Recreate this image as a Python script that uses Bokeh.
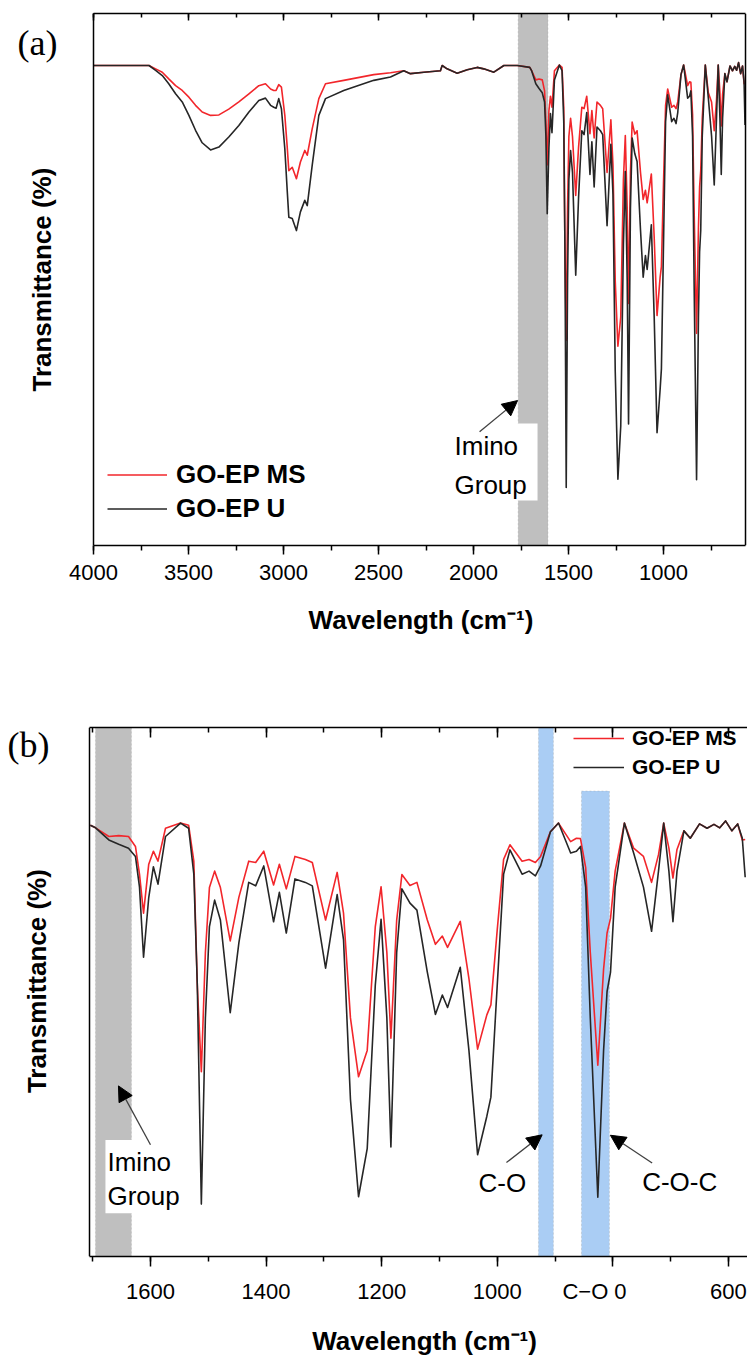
import math
from bokeh.plotting import figure
from bokeh.models import (Range1d, LinearAxis, SingleIntervalTicker, BoxAnnotation, Label,
                          Arrow, NormalHead, Legend, LegendItem, CustomJSTickFormatter, Span)
from bokeh.layouts import column
from bokeh.embed import file_html
from bokeh.resources import INLINE

# ---------------- data ----------------
wavenumber = [4000, 3708, 3673, 3638, 3604, 3568, 3533, 3498, 3463, 3428, 3384, 3340, 3288, 3235,
              3182, 3130, 3095, 3068, 3051, 3039, 3025, 3011, 2993, 2981, 2972, 2954, 2932, 2911,
              2888, 2875, 2849, 2814, 2779, 2683, 2525, 2437, 2367, 2332, 2261, 2174, 2165, 2139,
              2086, 2033, 1981, 1946, 1893, 1840, 1770,
              1704, 1695, 1672, 1655, 1638, 1626, 1619, 1612, 1603, 1595, 1587, 1574, 1548, 1534,
              1525, 1519, 1512, 1505, 1498, 1489, 1479, 1462, 1447, 1430, 1418, 1404, 1387, 1377,
              1365, 1350, 1332, 1320, 1297, 1277, 1266, 1254, 1240, 1225, 1211, 1201, 1191, 1184,
              1174, 1165, 1151, 1139, 1121, 1107, 1095, 1086, 1064, 1049, 1034, 1018, 1011, 1000,
              989, 978, 957, 945, 934, 925, 908, 894, 873, 863, 856, 847, 839, 826, 816, 810, 804,
              796, 780, 764, 747, 733, 721, 712, 703, 696, 689, 677, 666, 650, 637, 625, 615, 605,
              594, 584, 576, 571]

go_ep_u = [100.0, 100.0, 99.0, 97.9, 96.2, 94.1, 92.4, 89.6, 86.5, 83.9, 82.4, 83.0, 85.1, 87.5,
           90.3, 92.7, 93.2, 91.7, 91.3, 91.1, 93.1, 91.0, 82.6, 74.3, 68.4, 68.1, 65.6, 69.5,
           71.9, 70.8, 79.2, 89.6, 93.1, 94.8, 96.9, 97.6, 98.9, 98.3, 98.6, 98.9, 100.0, 99.3,
           98.4, 99.1, 99.6, 99.3, 98.6, 100.0, 100.0,
           99.6, 99.0, 96.2, 95.2, 94.3, 92.4, 85.3, 69.1, 82.9, 90.0, 86.0, 97.0, 100.1, 98.9,
           88.3, 62.7, 12.1, 55.1, 76.2, 82.3, 77.7, 56.3, 72.5, 86.4, 85.6, 90.2, 77.3, 84.1,
           74.7, 87.2, 86.4, 85.6, 66.6, 83.6, 73.2, 36.3, 13.8, 24.9, 62.7, 77.9, 55.1, 25.3,
           70.2, 84.9, 81.6, 80.0, 65.7, 55.9, 60.4, 57.5, 66.8, 47.6, 23.5, 32.4, 36.8, 62.7,
           88.3, 93.9, 88.3, 89.0, 87.9, 90.2, 98.1, 100.1, 93.2, 93.6, 94.7, 85.3, 55.1, 13.7,
           47.6, 61.2, 65.7, 85.3, 100.1, 93.2, 85.3, 75.1, 89.0, 100.1, 89.0, 77.3, 89.0, 98.3,
           96.6, 99.9, 98.9, 99.8, 99.0, 100.6, 98.3, 99.9, 96.6, 87.6]

go_ep_ms = [100.0, 100.0, 99.3, 98.6, 97.2, 95.8, 94.8, 93.4, 91.7, 90.3, 89.6, 89.7, 90.9, 92.4,
            94.1, 95.8, 96.2, 95.1, 94.8, 94.8, 96.0, 95.5, 89.6, 83.3, 78.1, 78.8, 76.4, 79.9,
            82.3, 81.3, 86.8, 93.1, 96.2, 96.9, 98.1, 98.5, 98.9, 98.3, 98.6, 98.9, 100.0, 99.3,
            98.4, 99.1, 99.6, 99.3, 98.6, 100.0, 100.0,
            99.6, 99.0, 97.0, 97.2, 97.0, 94.7, 88.3, 79.3, 90.6, 93.6, 91.3, 98.9, 100.1, 99.6,
            91.3, 62.7, 42.7, 70.2, 85.2, 89.0, 85.2, 72.9, 83.0, 91.3, 91.0, 93.6, 85.8, 90.6,
            84.9, 92.4, 91.7, 91.0, 77.7, 88.7, 79.3, 55.1, 41.5, 47.6, 76.2, 85.4, 70.2, 50.4,
            77.7, 88.2, 85.7, 86.4, 77.7, 72.1, 74.0, 71.4, 77.4, 64.2, 47.9, 55.8, 58.1, 75.5,
            91.7, 95.1, 91.3, 91.7, 91.0, 92.4, 98.1, 100.1, 95.8, 96.6, 96.5, 89.8, 70.2, 44.2,
            66.4, 74.7, 78.1, 89.0, 100.1, 94.3, 92.4, 86.4, 92.8, 100.1, 94.3, 87.4, 94.0, 98.3,
            96.6, 99.9, 98.9, 99.8, 99.0, 100.6, 98.3, 99.9, 96.2, 96.3]

series_names = ["GO-EP MS", "GO-EP U"]
panel_b_limit = 1705.5   # panel (b) shows the fingerprint region only

# ---------------- style ----------------
FONT = "Liberation Sans"
RED = "#f2262b"
BLACK = "#262626"
GRAY_BAND = "#bfbfbf"
BLUE_BAND = "#aacdf4"
NBSP = "\u00a0"


def make_fig(height, xr, yr, mbt, mbb):
    p = figure(width=747, height=height, x_range=Range1d(*xr), y_range=Range1d(*yr),
               x_axis_type=None, y_axis_type=None, output_backend="svg",
               toolbar_location=None, min_border_left=0, min_border_right=0,
               min_border_top=mbt, min_border_bottom=mbb)
    p.outline_line_color = None
    return p


def add_axes(p, bounds, interval, maj_out, min_out, maj_in_top, min_in_top,
             label_standoff, xlabel_standoff, pad, overrides=None):
    xb = LinearAxis(ticker=SingleIntervalTicker(interval=interval, num_minor_ticks=2),
                    axis_label=NBSP * pad + "Wavelength (cm\u207b\u00b9)", bounds=bounds)
    xb.major_tick_in = 0
    xb.major_tick_out = maj_out
    xb.minor_tick_in = 0
    xb.minor_tick_out = min_out
    xb.major_label_text_font = FONT
    xb.major_label_text_font_size = "22px"
    xb.major_label_text_color = "black"
    xb.major_label_standoff = label_standoff
    if overrides:
        xb.major_label_overrides = overrides
    xb.axis_label_text_font = FONT
    xb.axis_label_text_font_style = "bold"
    xb.axis_label_text_font_size = "26px"
    xb.axis_label_text_color = "black"
    xb.axis_label_standoff = xlabel_standoff
    xb.axis_line_width = 1.5
    xb.major_tick_line_width = 1.5
    xb.minor_tick_line_width = 1.5
    p.add_layout(xb, "below")

    xt = LinearAxis(ticker=SingleIntervalTicker(interval=interval, num_minor_ticks=2),
                    formatter=CustomJSTickFormatter(code="return ''"), bounds=bounds)
    xt.major_tick_in = maj_in_top
    xt.major_tick_out = 0
    xt.minor_tick_in = min_in_top
    xt.minor_tick_out = 0
    xt.major_label_text_font_size = "10px"
    xt.major_label_standoff = 0
    xt.axis_line_width = 1.5
    xt.major_tick_line_width = 1.5
    xt.minor_tick_line_width = 1.5
    p.add_layout(xt, "above")


def vline(p, loc):
    p.add_layout(Span(location=loc, dimension="height", line_color="black", line_width=1.5))


def band(p, left, right, color, top=None):
    kw = dict(left=left, right=right, fill_color=color, fill_alpha=1.0,
              line_color="#999999", line_dash="2 2", line_width=1, level="underlay")
    if top is not None:
        kw["top"] = top
    p.add_layout(BoxAnnotation(**kw))


def text(p, x, y, s, size="26px", font=FONT, style="normal", align="left", angle=0.0):
    p.add_layout(Label(x=x, y=y, text=s, text_font=font, text_font_size=size,
                       text_color="black", text_align=align, text_baseline="middle",
                       text_font_style=style, angle=angle))


def arrow(p, xs, ys, xe, ye):
    p.add_layout(Arrow(end=NormalHead(size=15, fill_color="black", line_color="black"),
                       x_start=xs, y_start=ys, x_end=xe, y_end=ye,
                       line_color="#404040", line_width=1.3))


def white_box(p, l, r, t, b):
    p.add_layout(BoxAnnotation(left=l, right=r, top=t, bottom=b, fill_color="white",
                               fill_alpha=1.0, line_color=None, level="underlay"))


def legend(p, rs, loc, gw, gh, standoff, size):
    lg = Legend(items=[LegendItem(label=series_names[0], renderers=[rs[0]]),
                       LegendItem(label=series_names[1], renderers=[rs[1]])],
                location=loc, padding=0, spacing=3, glyph_width=gw, glyph_height=gh,
                label_height=gh, label_standoff=standoff, label_text_font=FONT,
                label_text_font_size=size, label_text_font_style="bold",
                label_text_color="black", border_line_color=None, background_fill_alpha=0)
    p.add_layout(lg)


# ---------------- panel (a) ----------------
p1 = make_fig(640, (4489.5, 557.9), (0, 110.83), 13, 95)
add_axes(p1, (568.4, 4000), 500, 9, 5, 7, 4, 10, 22, 13)
vline(p1, 4000)
vline(p1, 568.4)
band(p1, 1765, 1608, GRAY_BAND)
white_box(p1, 2110, 1663, 25.4, 9.4)
r_ms1 = p1.line(wavenumber, go_ep_ms, line_color=RED, line_width=1.6, line_join="round")
r_u1 = p1.line(wavenumber, go_ep_u, line_color=BLACK, line_width=1.6, line_join="round")
text(p1, 2100, 20.8, "Imino")
text(p1, 2100, 12.7, "Group")
arrow(p1, 1968, 23.7, 1768, 30.2)
text(p1, 4400, 104.6, "(a)", size="36px", font="Liberation Serif")
text(p1, 4273.7, 55.4, "Transmittance (%)", style="bold", align="center", angle=math.pi / 2)
legend(p1, (r_ms1, r_u1), (107, 21), 60, 31, 9, "26px")

# ---------------- panel (b) ----------------
wn_b = [w for w in wavenumber if w <= panel_b_limit]
u_b = [t for w, t in zip(wavenumber, go_ep_u) if w <= panel_b_limit]
ms_b = [t for w, t in zip(wavenumber, go_ep_ms) if w <= panel_b_limit]

p2 = make_fig(718, (1859.5, 567), (0, 122.17), 87, 91)
add_axes(p2, (567, panel_b_limit), 200, 10, 5, 10, 5, 12, 19, 14,
         overrides={800: "C\u2212O" + NBSP + "0" + NBSP * 6})
vline(p2, panel_b_limit)
band(p2, 1695.2, 1632.9, GRAY_BAND)
band(p2, 928.7, 902.8, BLUE_BAND)
band(p2, 854.3, 805.9, BLUE_BAND, top=107.5)
white_box(p2, 1677.9, 1544.6, 26.9, 10.0)
r_ms2 = p2.line(wn_b, ms_b, line_color=RED, line_width=1.6, line_join="round")
r_u2 = p2.line(wn_b, u_b, line_color=BLACK, line_width=1.6, line_join="round")
text(p2, 1674.4, 21.9, "Imino")
text(p2, 1674.4, 14.0, "Group")
arrow(p2, 1600, 25.8, 1655.4, 39.4)
text(p2, 1032.5, 17.0, "C-O")
arrow(p2, 984.1, 21.7, 922.3, 28.1)
text(p2, 749.3, 17.1, "C-O-C")
arrow(p2, 732.0, 21.6, 804.2, 28.0)
text(p2, 1847.4, 118.1, "(b)", size="36px", font="Liberation Serif")
text(p2, 1795.5, 63.6, "Transmittance (%)", style="bold", align="center", angle=math.pi / 2)
legend(p2, (r_ms2, r_u2), (573, 476), 51, 26, 8, "21px")

layout = column(p1, p2, spacing=0)
open("out.html", "w").write(file_html(layout, INLINE))
